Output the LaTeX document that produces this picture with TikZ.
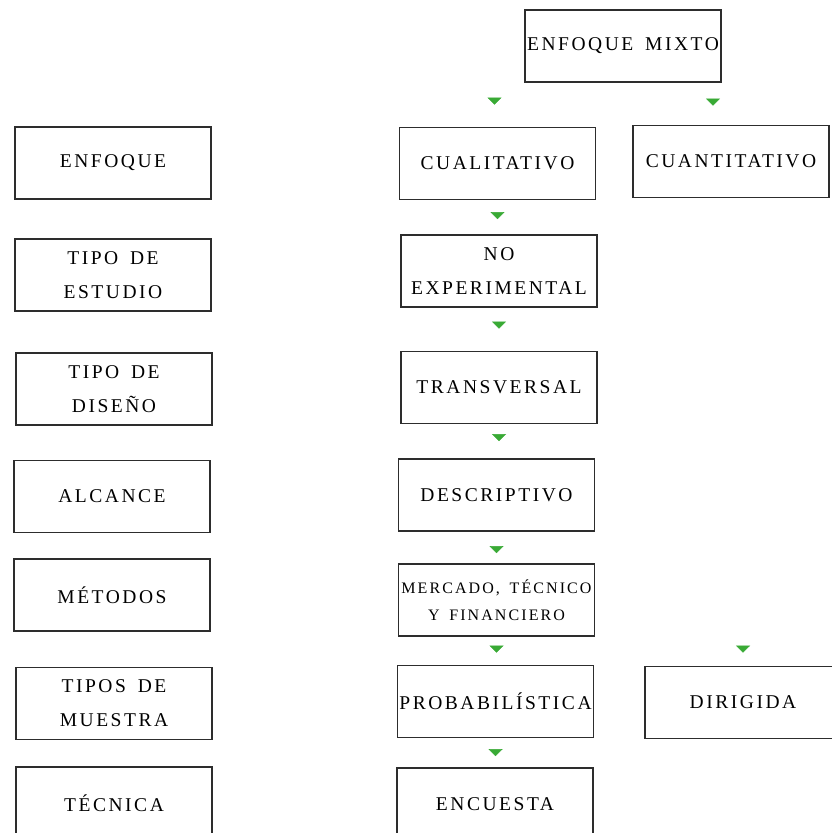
\documentclass[tikz,border=0pt]{standalone}
\usepackage{fontspec}
\usetikzlibrary{arrows.meta}
\newfontfamily\espaciada[LetterSpace=13,WordSpace=1.6]{Liberation Serif}
\definecolor{verde}{RGB}{57,170,53}
\definecolor{borde}{RGB}{45,45,45}

\begin{document}
\begin{tikzpicture}[x=1pt,y=-1pt,
  caja/.style={draw=borde,line width=1.6pt,minimum width=196pt,minimum height=72pt,
    inner sep=0pt,align=center,font=\espaciada\fontsize{19.5}{34}\selectfont},
  cajachica/.style={caja,font=\espaciada\fontsize{16}{27}\selectfont},
  flecha/.style={draw=white,line width=0.4pt,shorten <=2pt,
    -{Triangle[width=14pt,length=7pt,color=verde]}}]
\useasboundingbox (0,0) rectangle (831,833);

\node[caja] (enfoque) at (113,163) {ENFOQUE};
\node[caja] (estudio) at (113,275) {TIPO DE\\ESTUDIO};
\node[caja] (diseno) at (114,389) {TIPO DE\\DISEÑO};
\node[caja] (alcance) at (112,496.5) {ALCANCE};
\node[caja] (metodos) at (112,595) {MÉTODOS};
\node[caja] (muestra) at (114,703.5) {TIPOS DE\\MUESTRA};
\node[caja] (tecnica) at (114,803) {TÉCNICA};

\node[caja] (mixto) at (623,46) {ENFOQUE MIXTO};
\node[caja] (cual) at (497.5,163.5) {CUALITATIVO};
\node[caja] (cuanti) at (731,161.5) {CUANTITATIVO};
\node[caja] (noexp) at (499,271) {NO\\EXPERIMENTAL};
\node[caja] (trans) at (499,387.5) {TRANSVERSAL};
\node[caja] (desc) at (496.5,495) {DESCRIPTIVO};
\node[cajachica] (mercado) at (496.5,600) {MERCADO, TÉCNICO\\Y FINANCIERO};
\node[caja] (prob) at (495.5,701.5) {PROBABILÍSTICA};
\node[caja] (encuesta) at (495,804) {ENCUESTA};
\node[caja] (dirigida) at (743,702.5) {DIRIGIDA};

\draw[flecha,shorten >=22pt] ([xshift=-3pt]mixto.south -| cual.north) -- ([xshift=-3pt]cual.north);
\draw[flecha,shorten >=19pt] ([xshift=-18pt]mixto.south -| cuanti.north) -- ([xshift=-18pt]cuanti.north);
\draw[flecha,shorten >=15pt] (cual.south) -- (cual.south |- noexp.north);
\draw[flecha,shorten >=22pt] (noexp.south) -- (trans.north);
\draw[flecha,shorten >=17pt] (trans.south) -- (trans.south |- desc.north);
\draw[flecha,shorten >=10pt] (desc.south) -- (mercado.north);
\draw[flecha,shorten >=12pt] (mercado.south) -- (mercado.south |- prob.north);
\draw[flecha,shorten >=11pt] (prob.south) -- (prob.south |- encuesta.north);
\draw[flecha,shorten >=13pt] (cuanti.south -| dirigida.north) -- (dirigida.north);

\end{tikzpicture}
\end{document}
